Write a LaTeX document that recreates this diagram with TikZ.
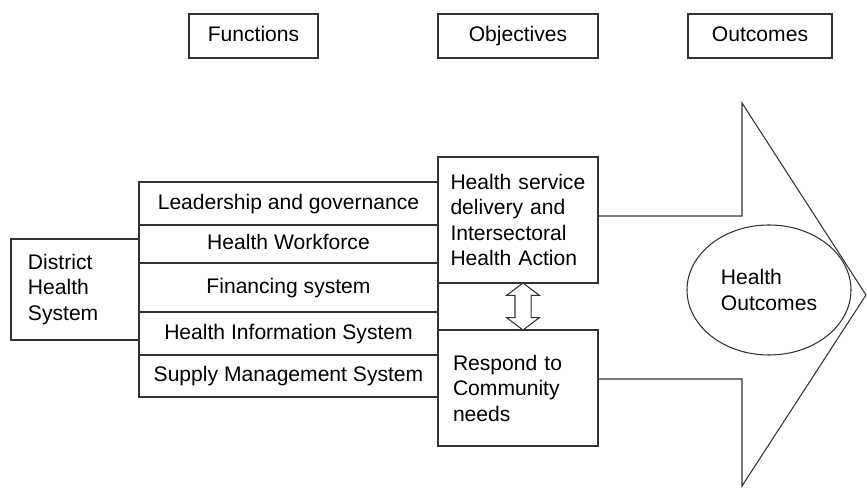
\documentclass[tikz,border=0pt]{standalone}
\usepackage{fontspec}
\setmainfont{Liberation Sans}
\usetikzlibrary{shapes.geometric,shapes.arrows}

\begin{document}
\begin{tikzpicture}[line width=0.6pt, font=\fontsize{12}{14.5}\selectfont,
	head/.style={draw=black!80, minimum height=0.88cm, inner sep=0pt, text height=1.6ex, text depth=0.4ex},
	func/.style={draw=black!80, minimum width=5.98cm, inner sep=0pt, text height=1.6ex, text depth=0.4ex},
	obj/.style={draw=black!80, minimum width=3.2cm, text width=2.6cm, inner xsep=0.3cm, inner ysep=0pt, align=left}]

	\useasboundingbox (0,0) rectangle (17.34,9.76);

	% column titles
	\node[head, minimum width=2.58cm] (funtitle) at (5.07,9.04) {Functions};
	\node[head, minimum width=3.20cm] (objtitle) at (10.36,9.04) {Objectives};
	\node[head, minimum width=2.88cm] (outtitle) at (15.20,9.04) {Outcomes};

	\node[draw=black!80, minimum height=2.02cm, text width=1.88cm, inner xsep=0.34cm, align=left] (dhs) at (1.50,3.97) {District\\Health\\System};

	% functions
	\node[func, minimum height=0.86cm] (lead) at (5.77,5.69) {Leadership and governance};
	\node[func, minimum height=0.76cm] (work) at (5.77,4.88) {Health Workforce};
	\node[func, minimum height=0.98cm] (fin) at (5.77,4.01) {Financing system};
	\node[func, minimum height=0.86cm] (info) at (5.77,3.09) {Health Information System};
	\node[func, minimum height=0.84cm] (supply) at (5.77,2.24) {Supply Management System};

	% objectives
	\node[obj, minimum height=2.52cm, text width=2.7cm, inner xsep=0.25cm] (serv) at (10.36,5.36) {Health service\\delivery and\\Intersectoral\\Health Action};
	\node[obj, minimum height=2.32cm] (resp) at (10.36,2.00) {Respond to\\Community\\needs};

	\node[draw=black!80, double arrow, rotate=90, minimum height=0.94cm, minimum width=0.64cm, inner xsep=0pt, inner ysep=0.15cm,
		double arrow head extend=0.17cm, double arrow tip angle=106] (link) at (10.46,3.63) {};

	% outcome arrow
	\coordinate (notchtop) at (14.84,7.70);
	\coordinate (tip) at (17.32,3.86);
	\coordinate (notchbot) at (14.84,0.04);
	\draw[black!80] ([yshift=0.08cm]serv.east) -| (notchtop) -- (tip) -- (notchbot) |- ([yshift=0.18cm]resp.east);

	\node[draw=black!80, ellipse, minimum width=3.28cm, minimum height=2.60cm, inner sep=0pt, align=left] (health) at (15.38,3.96) {Health\\Outcomes};

\end{tikzpicture}
\end{document}
